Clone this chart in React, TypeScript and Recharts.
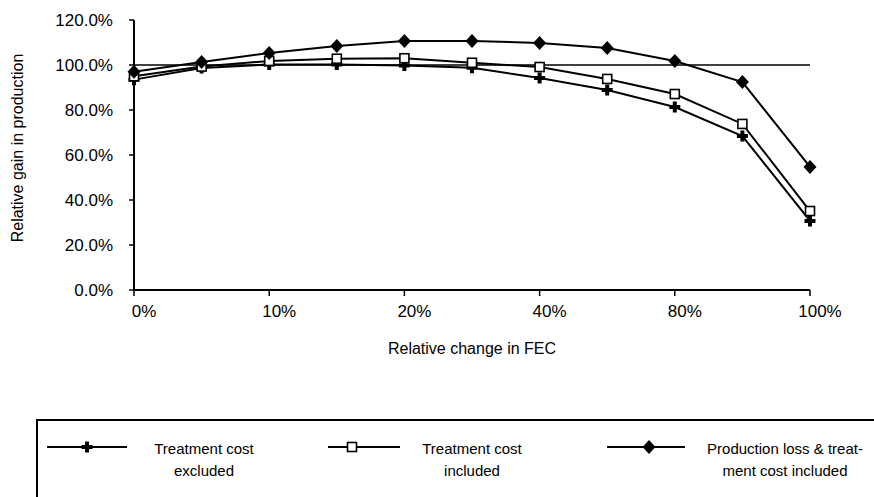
import React from "react";
import {
  LineChart,
  Line,
  XAxis,
  YAxis,
  ReferenceLine,
  Label,
} from "recharts";

const categories = ["0%", "5%", "10%", "15%", "20%", "30%", "40%", "60%", "80%", "90%", "100%"];
const costExcluded = [93.5, 98.7, 100.2, 100.2, 99.8, 98.8, 94.2, 88.9, 81.3, 68.4, 30.7];
const costIncluded = [95, 99.3, 101.8, 102.8, 103, 101, 99.1, 93.8, 87.1, 73.8, 35.1];
const lossAndCost = [97, 101.3, 105.3, 108.4, 110.7, 110.7, 109.8, 107.6, 101.8, 92.4, 54.7];
const yTicks = [0, 20, 40, 60, 80, 100, 120];

const seriesNames = [
  ["Treatment cost", "excluded"],
  ["Treatment cost", "included"],
  ["Production loss & treat-", "ment cost included"],
];

const data = categories.map((c, i) => ({
  cat: c,
  excluded: costExcluded[i],
  included: costIncluded[i],
  loss: lossAndCost[i],
}));

const FONT = '"Liberation Sans", Arial, sans-serif';

function crossShape(cx: number, cy: number) {
  return (
    <path
      d={`M${cx - 5.5},${cy}H${cx + 5.5}M${cx},${cy - 5.5}V${cy + 5.5}`}
      stroke="#000"
      strokeWidth={4}
      fill="none"
    />
  );
}

function squareShape(cx: number, cy: number) {
  return (
    <rect x={cx - 4.5} y={cy - 4.5} width={9} height={9} fill="#fff" stroke="#000" strokeWidth={1.6} />
  );
}

function diamondShape(cx: number, cy: number) {
  return <path d={`M${cx},${cy - 7}L${cx + 6.5},${cy}L${cx},${cy + 7}L${cx - 6.5},${cy}Z`} fill="#000" />;
}

const shapes = [crossShape, squareShape, diamondShape];

const makeDot = (shape: (x: number, y: number) => React.ReactNode) => (props: any) => {
  const { cx, cy, index } = props;
  if (cx == null || cy == null) return <g key={index} />;
  return <g key={index}>{shape(cx, cy)}</g>;
};

// legend item placement inside the box (icon line start/end, marker x, text centre)
const legendSlots = [
  { lineFrom: 9, lineTo: 89, mark: 49, text: 166 },
  { lineFrom: 290, lineTo: 362, mark: 314, text: 434 },
  { lineFrom: 569, lineTo: 647, mark: 611, text: 747 },
];

function LegendBox() {
  return (
    <div
      style={{
        position: "absolute",
        left: 36,
        top: 419,
        width: 900,
        height: 120,
        borderTop: "2px solid #000",
        borderLeft: "2px solid #000",
        fontFamily: FONT,
        fontSize: 15,
        color: "#000",
      }}
    >
      <svg width={900} height={60} style={{ position: "absolute", left: 0, top: 0 }}>
        {legendSlots.map((s, i) => (
          <g key={i}>
            <line x1={s.lineFrom} x2={s.lineTo} y1={26} y2={26} stroke="#000" strokeWidth={2} />
            {shapes[i](s.mark, 26)}
          </g>
        ))}
      </svg>
      {legendSlots.map((s, i) => (
        <div
          key={i}
          style={{
            position: "absolute",
            left: s.text - 100,
            width: 200,
            top: 17,
            textAlign: "center",
            lineHeight: "22px",
          }}
        >
          {seriesNames[i][0]}
          <br />
          {seriesNames[i][1]}
        </div>
      ))}
    </div>
  );
}

export default function App() {
  const tickStyle = { fill: "#000", fontSize: 17, fontFamily: FONT };
  return (
    <div
      style={{
        position: "absolute",
        left: 0,
        top: 0,
        width: 874,
        height: 497,
        overflow: "hidden",
        background: "#fff",
      }}
    >
      <LineChart
        width={874}
        height={497}
        data={data}
        margin={{ top: 20, right: 64, bottom: 137, left: 0 }}
      >
        <XAxis
          dataKey="cat"
          interval={1}
          padding={{ left: 0, right: 0 }}
          axisLine={{ stroke: "#000", strokeWidth: 2 }}
          tickLine={{ stroke: "#000", strokeWidth: 1.5 }}
          tickSize={6}
          tickMargin={9}
          tick={{ ...tickStyle, dx: 10 }}
          height={70}
        >
          <Label
            value="Relative change in FEC"
            position="insideBottom"
            offset={6}
            style={{ fill: "#000", fontSize: 16, fontFamily: FONT }}
          />
        </XAxis>
        <YAxis
          width={134}
          domain={[0, 120]}
          ticks={yTicks}
          interval={0}
          tickFormatter={(v: number) => `${v.toFixed(1)}%`}
          axisLine={{ stroke: "#000", strokeWidth: 2 }}
          tickLine={{ stroke: "#000", strokeWidth: 1.5 }}
          tickSize={5}
          tickMargin={16}
          tick={tickStyle}
        >
          <Label
            content={() => (
              <text
                x={17}
                y={148}
                transform="rotate(-90 17 148)"
                textAnchor="middle"
                dominantBaseline="central"
                style={{ fill: "#000", fontSize: 16, fontFamily: FONT }}
              >
                Relative gain in production
              </text>
            )}
          />
        </YAxis>
        <ReferenceLine y={100} stroke="#000" strokeWidth={1.6} />
        <Line
          dataKey="excluded"
          stroke="#000"
          strokeWidth={2}
          dot={makeDot(crossShape)}
          activeDot={false}
          isAnimationActive={false}
        />
        <Line
          dataKey="included"
          stroke="#000"
          strokeWidth={2}
          dot={makeDot(squareShape)}
          activeDot={false}
          isAnimationActive={false}
        />
        <Line
          dataKey="loss"
          stroke="#000"
          strokeWidth={2}
          dot={makeDot(diamondShape)}
          activeDot={false}
          isAnimationActive={false}
        />
      </LineChart>
      <LegendBox />
    </div>
  );
}
